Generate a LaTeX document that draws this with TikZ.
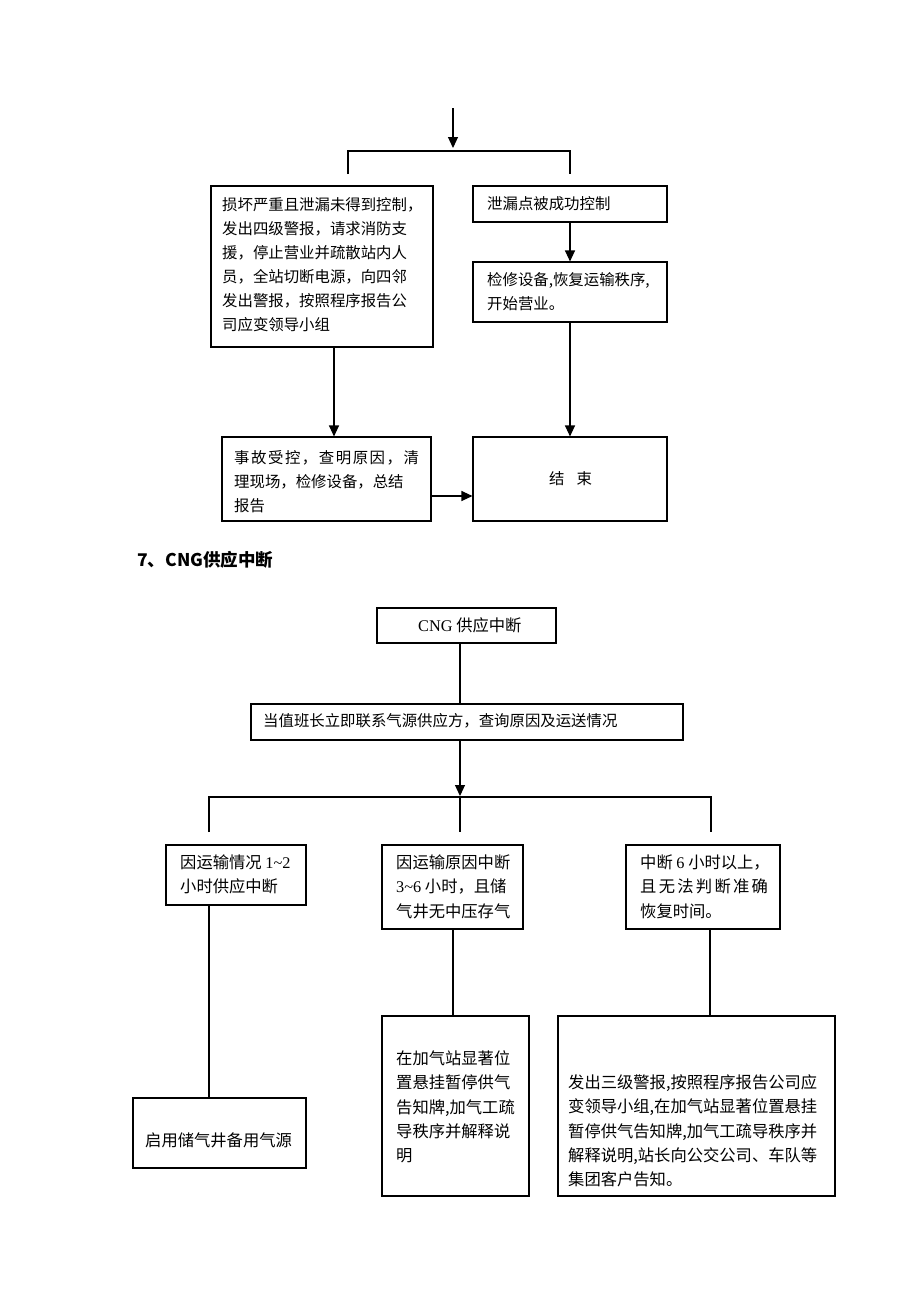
\documentclass[tikz,border=0pt]{standalone}
\usepackage{fontspec}
\setmainfont{Liberation Serif}
\newfontfamily\cjk{Noto Sans CJK SC}
\usetikzlibrary{arrows.meta}
\newcommand{\lat}[1]{{\rmfamily #1}}
\newcommand{\wide}[1]{\addfontfeature{LetterSpace=#1}}
\tikzset{
 box/.style={draw, line width=1.1pt, inner sep=0pt},
 txt/.style={inner sep=0pt, anchor=north west, align=left, font=\cjk\fontsize{15.4}{24}\selectfont},
 txtb/.style={txt, font=\cjk\fontsize{16.3}{24.3}\selectfont},
 arr/.style={line width=1.1pt, -{Triangle[length=11pt,width=10pt]}},
 ln/.style={line width=1.1pt},
}
\begin{document}
\begin{tikzpicture}[x=1pt,y=-1pt]
\useasboundingbox (0,0) rectangle (920,1302);
\fill[white] (0,0) rectangle (920,1302);

% ---------- upper part ----------
\coordinate (top) at (453,108);
\coordinate (fork) at (453,151);
\coordinate (fl) at (348,151);
\coordinate (fr) at (570,151);
\coordinate (flb) at (348,174);
\coordinate (frb) at (570,174);

\node[box, minimum width=194pt, minimum height=36pt] (rb1) at (570,204) {};
\node[box, minimum width=222pt, minimum height=161pt] (lb1) at (322,266.5) {};
\node[box, minimum width=194pt, minimum height=60pt] (rb2) at (570,292) {};
\node[box, minimum width=209pt, minimum height=84pt] (acc) at (326.5,479) {};
\node[box, minimum width=194pt, minimum height=84pt] (end) at (570,479) {};

\node[txt] (tlb1) at (222,197) {损坏严重且泄漏未得到控制，\\发出四级警报，请求消防支\\援，停止营业并疏散站内人\\员，全站切断电源，向四邻\\发出警报，按照程序报告公\\司应变领导小组};
\node[txt] (trb1) at (487,196) {泄漏点被成功控制};
\node[txt] (trb2) at (487,272) {检修设备,恢复运输秩序,\\开始营业。};
\node[txt] (tacc) at (234,450) {\wide{10}事故受控，查明原因，清\\理现场，检修设备，总结\\报告};
\node[txt] (tend) at (549,471) {结\hspace{12pt}束};

\draw[arr] (top) -- ([yshift=3pt]fork);
\draw[ln] (flb) -- (fl) -- (fr) -- (frb);
\draw[arr] (rb1.south) -- (rb2.north);
\draw[arr] (rb2.south) -- (end.north);
\draw[arr] ([xshift=12pt]lb1.south) -- ([xshift=7.5pt]acc.north);
\draw[arr] ([yshift=-17pt]acc.east) -- ([yshift=-17pt]end.west);

% ---------- title ----------
\node[inner sep=0pt, anchor=west, font=\cjk\bfseries\fontsize{17.5}{17.5}\selectfont] (title) at (137,560) {7、CNG供应中断};

% ---------- lower part ----------
\node[box, minimum width=179pt, minimum height=35pt] (cng) at (466.5,625.5) {};
\node[box, minimum width=432pt, minimum height=36pt] (duty) at (467,722) {};
\node[box, minimum width=140pt, minimum height=60pt] (c1) at (236,875) {};
\node[box, minimum width=141pt, minimum height=84pt] (c2) at (452.5,887) {};
\node[box, minimum width=154pt, minimum height=84pt] (c3) at (703,887) {};
\node[box, minimum width=173pt, minimum height=70pt] (d1) at (219.5,1133) {};
\node[box, minimum width=147pt, minimum height=180pt] (d2) at (455.5,1106) {};
\node[box, minimum width=277pt, minimum height=180pt] (d3) at (696.5,1106) {};

\node[txtb] (tcng) at (418,617.5) {\lat{CNG} 供应中断};
\node[txtb] (tduty) at (263,713.5) {\fontsize{15.4}{24}\selectfont 当值班长立即联系气源供应方，查询原因及运送情况};
\node[txtb] (tc1) at (180,854.5) {因运输情况 \lat{1\textasciitilde 2}\\小时供应中断};
\node[txtb] (tc2) at (396,854.5) {因运输原因中断\\\lat{3\textasciitilde 6} 小时，且储\\气井无中压存气};
\node[txtb] (tc3) at (640,854.5) {中断 \lat{6} 小时以上，\\{\wide{14}且无法判断准确}\\恢复时间。};
\node[txtb] (td1) at (145,1132.5) {启用储气井备用气源};
\node[txtb] (td2) at (396,1050.5) {在加气站显著位\\置悬挂暂停供气\\告知牌,加气工疏\\导秩序并解释说\\明};
\node[txtb] (td3) at (568,1074.5) {发出三级警报,按照程序报告公司应\\变领导小组,在加气站显著位置悬挂\\暂停供气告知牌,加气工疏导秩序并\\解释说明,站长向公交公司、车队等\\集团客户告知。};

\coordinate (xm) at (460,0);
\coordinate (x1) at (209,0);
\coordinate (x2) at (453,0);
\coordinate (x3) at (710,0);
\coordinate (bar) at (460,797);
\coordinate (bl) at (209,797);
\coordinate (br) at (711,797);
\coordinate (blb) at (209,832);
\coordinate (bmb) at (460,832);
\coordinate (brb) at (711,832);

\draw[ln] (cng.south -| xm) -- (duty.north -| xm);
\draw[arr] (duty.south -| xm) -- ([yshift=1pt]bar);
\draw[ln] (blb) -- (bl) -- (br) -- (brb);
\draw[ln] (bar) -- (bmb);
\draw[ln] (c1.south -| x1) -- (d1.north -| x1);
\draw[ln] (c2.south -| x2) -- (d2.north -| x2);
\draw[ln] (c3.south -| x3) -- (d3.north -| x3);
\end{tikzpicture}
\end{document}
